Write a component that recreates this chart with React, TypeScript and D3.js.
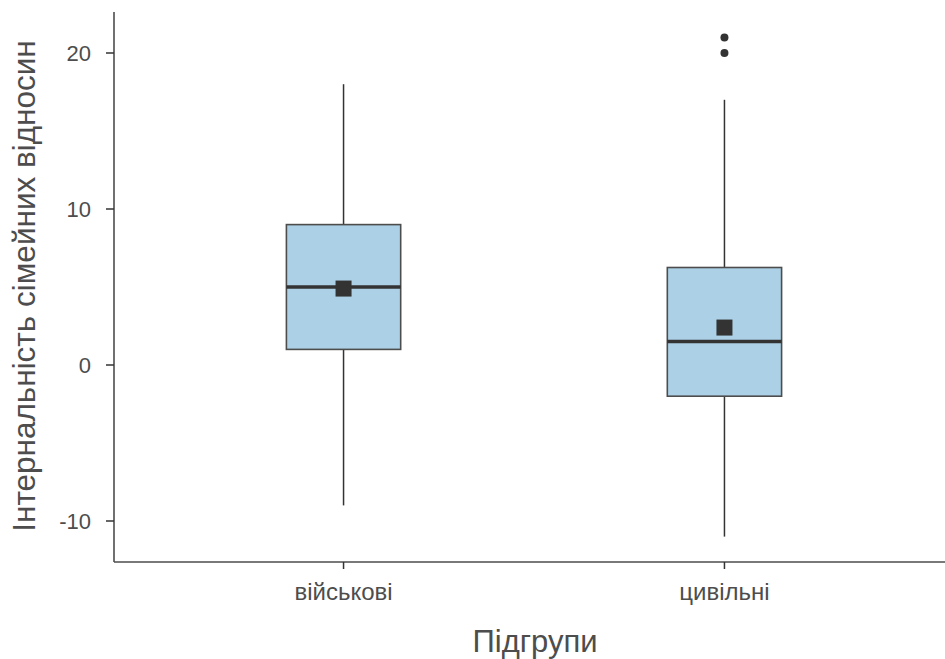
import React from "react";
import * as d3 from "d3";

const categories = ["військові", "цивільні"];
const q1Values = [1, -2];
const medianValues = [5, 1.5];
const q3Values = [9, 6.25];
const whiskerLow = [-9, -11];
const whiskerHigh = [18, 17];
const meanValues = [4.9, 2.4];
const outliers = [[], [20, 21]];
const yTicks = [-10, 0, 10, 20];

const W = 945;
const H = 659;
const left = 114;
const bottom = 562;
const top = 12;

export default function App() {
  const y = d3.scaleLinear().domain([-10, 20]).range([521, 53]);
  const x = d3.scaleLinear().domain([0.4, 2.6]).range([115, 953]);
  const boxW = x(1.3) - x(1);
  const font = "'Liberation Sans', Arial, sans-serif";
  return (
    <svg width={W} height={H} style={{ position: "absolute", left: 0, top: 0, background: "#fff" }}>
      {categories.map((c, i) => {
        const cx = x(i + 1);
        return (
          <g key={c}>
            <line x1={cx} x2={cx} y1={y(whiskerHigh[i])} y2={y(q3Values[i])} stroke="#333" strokeWidth={1.5} />
            <line x1={cx} x2={cx} y1={y(q1Values[i])} y2={y(whiskerLow[i])} stroke="#333" strokeWidth={1.5} />
            <rect x={cx - boxW / 2} y={y(q3Values[i])} width={boxW} height={y(q1Values[i]) - y(q3Values[i])}
              fill="#acd1e6" stroke="#4d4d4d" strokeWidth={1.6} />
            <line x1={cx - boxW / 2} x2={cx + boxW / 2} y1={y(medianValues[i])} y2={y(medianValues[i])} stroke="#333" strokeWidth={3.5} />
            <rect x={cx - 8} y={y(meanValues[i]) - 8} width={16} height={16} fill="#333" />
            {outliers[i].map((o, j) => (
              <circle key={j} cx={cx} cy={y(o)} r={4} fill="#333" />
            ))}
          </g>
        );
      })}
      <line x1={left} x2={left} y1={top} y2={bottom} stroke="#4d4d4d" strokeWidth={1.6} />
      <line x1={left} x2={W} y1={bottom} y2={bottom} stroke="#4d4d4d" strokeWidth={1.6} />
      {yTicks.map((t) => (
        <g key={t}>
          <line x1={left - 8} x2={left} y1={y(t)} y2={y(t)} stroke="#333" strokeWidth={1.5} />
          <text x={91} y={y(t)} dy="0.36em" textAnchor="end" fontFamily={font} fontSize={22} fill="#4d4d4d">{t}</text>
        </g>
      ))}
      {categories.map((c, i) => (
        <g key={c}>
          <line x1={x(i + 1)} x2={x(i + 1)} y1={bottom} y2={bottom + 7} stroke="#333" strokeWidth={1.5} />
          <text x={x(i + 1)} y={600} textAnchor="middle" fontFamily={font} fontSize={24} fill="#4d4d4d">{c}</text>
        </g>
      ))}
      <text x={535} y={652} textAnchor="middle" fontFamily={font} fontSize={31} fill="#4d4d4d">Підгрупи</text>
      <text transform={`translate(35, 286) rotate(-90)`} textAnchor="middle" fontFamily={font} fontSize={31.5} fill="#4d4d4d">Інтернальність сімейних відносин</text>
    </svg>
  );
}
